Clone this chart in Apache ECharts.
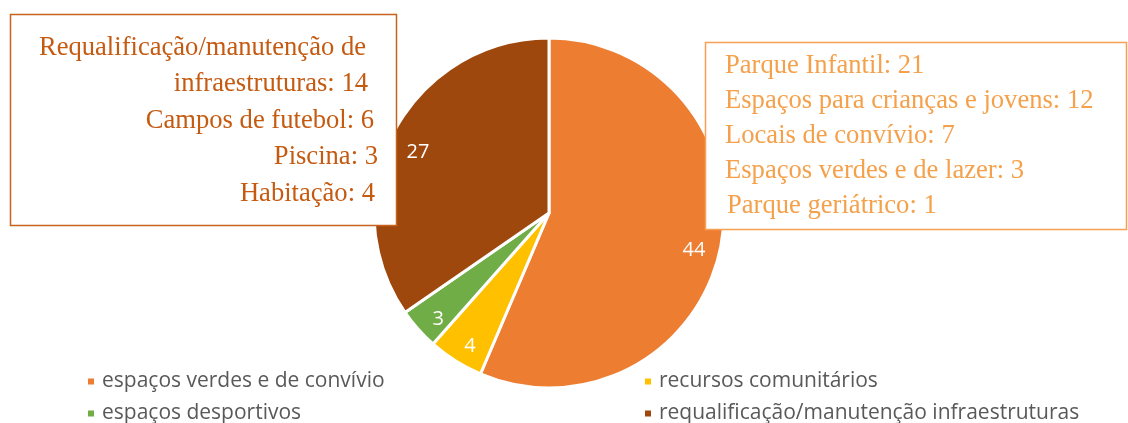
<!DOCTYPE html>
<html><head><meta charset="utf-8">
<script src="https://cdn.jsdelivr.net/npm/echarts@6/dist/echarts.min.js"></script>
<style>html,body{margin:0;padding:0;background:#fff}#c{width:1128px;height:423px}</style>
</head><body><div id="c"></div>
<script>
const categories = ['espaços verdes e de convívio','recursos comunitários','espaços desportivos','requalificação/manutenção infraestruturas'];
const values = [44, 4, 3, 27];
const colors = ['#ED7D31','#FFC000','#70AD47','#9E480E'];
const leftBoxLines = ['Requalificação/manutenção de','infraestruturas: 14','Campos de futebol: 6','Piscina: 3','Habitação: 4'];
const rightBoxLines = ['Parque Infantil: 21','Espaços para crianças e jovens: 12','Locais de convívio: 7','Espaços verdes e de lazer: 3','Parque geriátrico: 1'];

const chart = echarts.init(document.getElementById('c'), null, {renderer:'canvas'});
const data = categories.map((n,i)=>({name:n, value:values[i], itemStyle:{color:colors[i]}}));
const serif = '"Liberation Serif", "Times New Roman", serif';
const leftRight = [366,368,374,378,375];
const graphics = [
  {type:'rect', z:100, shape:{x:10.5,y:14.5,width:386,height:211}, style:{fill:'#fff', stroke:'#C8621E', lineWidth:1.5}},
  ...leftBoxLines.map((t,i)=>({type:'text', z:101, x:leftRight[i], y:48+i*36.5, style:{text:t, fill:'#C55A11', font:'26.6px '+serif, textAlign:'right', textVerticalAlign:'middle'}})),
  {type:'rect', z:100, shape:{x:705.5,y:42.5,width:421,height:187}, style:{fill:'#fff', stroke:'#F7A155', lineWidth:1.5}},
  ...rightBoxLines.map((t,i)=>({type:'text', z:101, x:725 + (i===4?2:0), y:66+i*35, style:{text:t, fill:'#F5A04A', font:'26.6px '+serif, textAlign:'left', textVerticalAlign:'middle'}}))
];
const legendText = {color:'#595959', fontSize:21, fontFamily:'"Open Sans", sans-serif', padding:[0,0,0,2]};
chart.setOption({
  animation:false,
  legend:[
    {data:[categories[0],categories[2]], orient:'vertical', left:86, top:371, height:60, padding:0, itemWidth:8, itemHeight:8, itemGap:11, icon:'rect',
     textStyle:legendText, selectedMode:false},
    {data:[categories[1],categories[3]], orient:'vertical', left:643, top:371, height:60, padding:0, itemWidth:8, itemHeight:8, itemGap:11, icon:'rect',
     textStyle:legendText, selectedMode:false}
  ],
  series:[
    {type:'pie', center:[549,213], radius:[0,175], startAngle:90, clockwise:true, data:data,
     itemStyle:{borderColor:'#fff', borderWidth:3}, label:{show:false}, labelLine:{show:false}},
    {type:'pie', center:[549,221], radius:[114,176], startAngle:90, clockwise:true, silent:true, legendHoverLink:false,
     data:data.map(d=>({name:d.name+' ', value:d.value, itemStyle:{color:'rgba(0,0,0,0)'}})),
     label:{show:true, position:'inside', formatter:'{c}', color:'#fff', fontSize:20, fontFamily:'"Open Sans", sans-serif'}, labelLine:{show:false}}
  ],
  graphic: graphics
});
</script></body></html>
